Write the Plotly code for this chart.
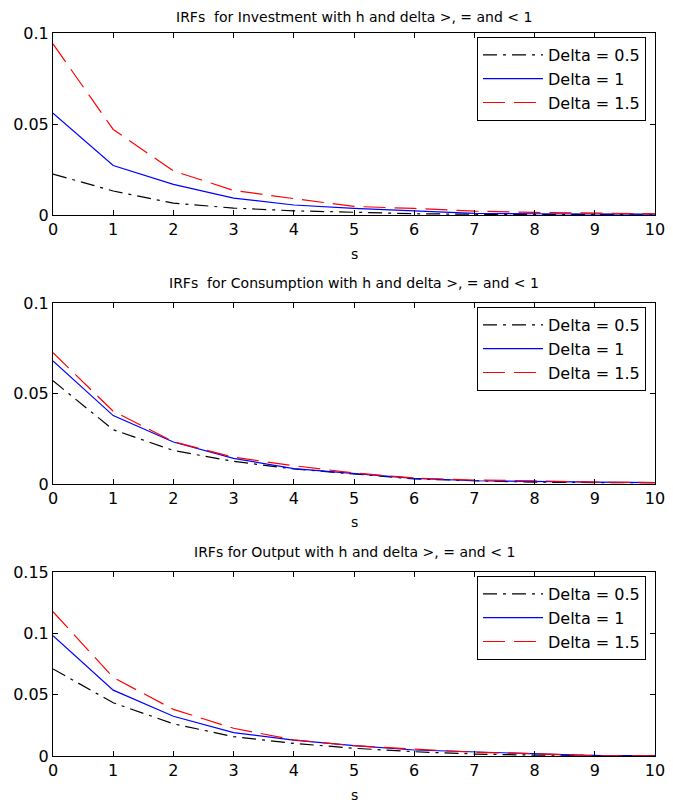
import plotly.graph_objects as go

s = list(range(11))

inv_d05 = [0.0225, 0.0132, 0.0065, 0.0038, 0.0023, 0.0013, 0.0007, 0.0004, 0.0002, 0.0001, 0.0001]
inv_d1 = [0.056, 0.0272, 0.0168, 0.0093, 0.0055, 0.0036, 0.0023, 0.0009, 0.0007, 0.0005, 0.0005]
inv_d15 = [0.094, 0.047, 0.0242, 0.0135, 0.009, 0.0047, 0.0036, 0.0021, 0.0014, 0.001, 0.0007]

cons_d05 = [0.057, 0.030, 0.0185, 0.0125, 0.0083, 0.0055, 0.0028, 0.0018, 0.001, 0.0008, 0.0007]
cons_d1 = [0.068, 0.0378, 0.0232, 0.0142, 0.0085, 0.0059, 0.0031, 0.0018, 0.0013, 0.001, 0.0008]
cons_d15 = [0.0725, 0.0402, 0.0234, 0.0148, 0.0101, 0.0061, 0.0033, 0.0022, 0.0018, 0.001, 0.0008]

out_d05 = [0.071, 0.0434, 0.0262, 0.0158, 0.0103, 0.0063, 0.0035, 0.0016, 0.0007, 0.0003, 0.0002]
out_d1 = [0.098, 0.0537, 0.0324, 0.019, 0.013, 0.0084, 0.0049, 0.0035, 0.0019, 0.0003, 0.0002]
out_d15 = [0.1176, 0.064, 0.038, 0.0226, 0.0131, 0.0084, 0.0057, 0.003, 0.0019, 0.0002, 0.0001]

series_names = ["Delta = 0.5", "Delta = 1", "Delta = 1.5"]
titles = [
    "IRFs  for Investment with h and delta >, = and < 1",
    "IRFs  for Consumption with h and delta >, = and < 1",
    "IRFs for Output with h and delta >, = and < 1",
]
y_ranges = [[0, 0.1], [0, 0.1], [0, 0.15]]

panels = [
    (inv_d05, inv_d1, inv_d15),
    (cons_d05, cons_d1, cons_d15),
    (out_d05, out_d1, out_d15),
]

FONT = "DejaVu Sans"
OFF = 8  # page body margin
W, H = 673 - 2 * OFF, 805 - OFF
ML, MR, MT, MB = 53 - OFF, W - (655 - OFF), 33 - OFF, H - (756 - OFF)
PW, PH = W - ML - MR, H - MT - MB


def py(ypix):
    return (H - MB - (ypix - OFF)) / PH


def px(xpix):
    return (xpix - OFF - ML) / PW


domains = [[py(215), py(33)], [py(484), py(303)], [py(756), py(572)]]
title_y = [17, 283, 552]
s_y = [254, 522, 795]
legend_top = [37, 307, 576]

styles = [
    dict(color="black", dash="14px,6px,3px,6px"),
    dict(color="blue", dash="solid"),
    dict(color="red", dash="22px,9px"),
]

fig = go.Figure()
layout = dict(
    width=W, height=H,
    margin=dict(l=ML, r=MR, t=MT, b=MB, autoexpand=False),
    paper_bgcolor="white", plot_bgcolor="white",
    font=dict(family=FONT, size=16, color="black"),
    showlegend=True,
    annotations=[],
)

for i, series in enumerate(panels):
    k = "" if i == 0 else str(i + 1)
    lg = "legend" + k
    for j, vals in enumerate(series):
        fig.add_trace(go.Scatter(
            x=s, y=vals, mode="lines", name=series_names[j],
            line=dict(color=styles[j]["color"], dash=styles[j]["dash"], width=1.2),
            xaxis="x" + k, yaxis="y" + k, legend=lg,
        ))
    axcommon = dict(
        showline=True, linecolor="black", linewidth=1, mirror="ticks",
        ticks="inside", ticklen=5, tickcolor="black", showgrid=False, zeroline=False,
        tickfont=dict(family=FONT, size=16, color="black"),
        automargin=False, ticklabeloverflow="allow",
    )
    layout["xaxis" + k] = dict(
        axcommon, range=[0, 10], dtick=1, tick0=0, domain=[0, 1],
        anchor="y" + k,
    )
    layout["yaxis" + k] = dict(
        axcommon, range=y_ranges[i], dtick=0.05, tick0=0, domain=domains[i],
        anchor="x" + k,
    )
    layout[lg] = dict(
        x=px(646), xanchor="right", y=py(legend_top[i]), yanchor="top",
        bgcolor="white", bordercolor="black", borderwidth=1,
        font=dict(family=FONT, size=16, color="black"),
        itemwidth=60,
    )
    layout["annotations"].append(dict(
        text=titles[i], x=0.5, y=py(title_y[i]), xref="paper", yref="paper",
        xanchor="center", yanchor="middle", showarrow=False,
        font=dict(family=FONT, size=14, color="black"),
    ))
    layout["annotations"].append(dict(
        text="s", x=0.5, y=py(s_y[i]), xref="paper", yref="paper",
        xanchor="center", yanchor="middle", showarrow=False,
        font=dict(family=FONT, size=14, color="black"),
    ))

fig.update_layout(**layout)
fig.write_html("out.html")
